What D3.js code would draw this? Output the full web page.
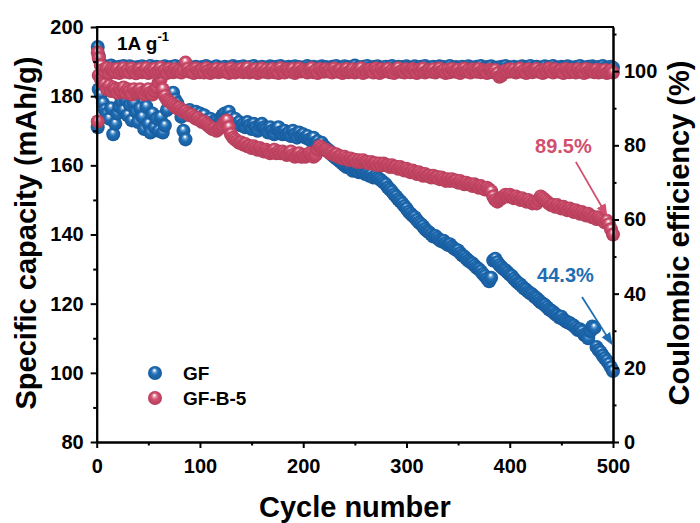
<!DOCTYPE html>
<html>
<head>
<meta charset="utf-8">
<script src="https://cdn.jsdelivr.net/npm/d3@7"></script>
<style>
  html, body { margin: 0; padding: 0; background: #fff; }
  svg { display: block; }
  text { font-family: "Liberation Sans", Arial, sans-serif; font-weight: bold; }
</style>
</head>
<body>
<svg id="chart" width="700" height="523"></svg>
<script>
// Cycle numbers: the first cycle, then every second cycle up to 500
const cycles = [1].concat(d3.range(2, 501, 2));

// Specific capacity (mAh/g), GF
const gfCapacity = [171,
  182,180.5,178,176,175,173.5,176.5,169,172,175,
  177,178.5,176,179,174.5,177.5,173,178,175.5,172.5,
  176.5,174,170.5,177,172,169.5,175,171,173.5,170,
  174,169.5,171.5,176,178.5,180.5,181,179,178,176.5,
  174,170,167.5,175.5,176,175,174.5,175.5,174,175,
  173.5,174.5,173,172,173.5,172.5,171.5,173,172,173.5,
  174.5,175,174,175.5,174,173,173.5,172,172.5,171.5,
  172,171,172.5,171.5,170.5,172,171,170,171.5,172,
  171,170.5,169.5,171,170,169,170.5,171,169.5,169,
  170,169,169.5,168.5,170,169,168,169.5,168.5,169,
  168,168.5,167.5,167,168,166.5,167,166,166.5,165.5,
  165,164.5,164,163,162.5,162,161.5,161,160.5,160,
  159.5,159.8,159,158.4,159.2,158.5,158,158.6,158,157.5,
  157.6,157,157.5,156.5,157,156.4,156,155.5,155,154.5,
  153.6,153,152.4,151.6,151,150.2,149.6,149,148.2,147.5,
  146.6,146,145.4,145,144.2,143.5,143,142.4,141.6,141,
  140.6,140,139.4,139.6,139,138.4,138,138.2,137.5,137,
  137.2,136.5,136,135.6,135.4,134.6,134,133.6,133,132.4,
  132,131.6,131,130.4,130,129.4,128.6,128,127.2,126.5,
  127.5,132.5,133,132,131.2,130.6,130,129.6,129,128.4,
  128,127.2,126.6,126,125.6,125,124.4,124,123.4,123,
  122.6,122,121.6,121,120.4,120,119.6,119,118.4,118,
  117.6,117,116.6,116,116.2,115.4,115,114.6,114.4,114,
  113.6,113,112.4,112.6,112,111,110.6,110,112,113.4,
  113,107.5,106.6,106,105,104.2,103.5,102.6,101.6,100.5];

// Specific capacity (mAh/g), GF-B-5
const gfbCapacity = [172.7,
  186,185,184,183.5,182,183,181.5,182.5,182,181,
  182,181.5,182.5,181,182,181.5,180.5,182,181,181.5,
  182,181,180.5,181.5,182,181,180.5,181.5,182.5,184,
  185,182,180,179,178.5,178,177.5,177,176.5,176.6,
  176,175.5,175.6,175,174.5,174.6,174,173.5,173.6,173,
  172.5,172.6,172,171.5,171,170.5,170.6,170,170.5,171,
  171.5,172.5,173,171,169,168,167.5,167,166.5,166.6,
  166,166.2,165.5,165.6,165,165.5,165,164.5,165,164.5,
  164,164.5,164,163.5,164,164.5,163.5,164,163.5,164,
  163.5,163,163.5,164,163,162.5,163,163.5,162.5,163,
  162.5,163,163.5,163,162.5,163,164.5,165.5,165,164.5,
  164.5,164,163.5,163.6,163,163.2,162.5,162.6,162,162.5,
  162,161.5,162,161.5,161.6,161,161.5,161,161.5,161,
  161,160.5,161,160.5,160.6,160,160.5,160,160.5,160,
  160,159.5,160,159.5,159.6,159,159.5,159,158.5,159,
  158.5,158,158.5,158,157.5,158,157.5,157,157.5,157,
  157,156.5,157,156.5,156.6,156,156.5,156,155.5,156,
  155.5,156,155.5,155.6,155,155.5,155,154.5,155,154.5,
  154.5,154,154.5,154,153.5,154,153.5,153,153.5,153,
  152.5,151,150,149.5,150,150.5,151,151.5,151,151.5,
  151,150.5,151,150.5,150,150.5,150,149.5,150,149.5,
  149,149.5,149,150,151,150.5,150,149.5,149,148.5,
  148.5,148,148.5,148,147.5,148,147.5,147,147.5,147,
  146.5,147,146.5,146,146.5,146,145.5,146,145.5,145,
  145,144.5,145,144.5,144,143.5,144,143,141.5,140];

// Coulombic efficiency (%), GF
const gfEfficiency = [106.5,
  104,102,101.5,100.6,101.2,100.4,101.5,100.8,101,100.3,
  101.2,100.7,101.4,100.5,100.9,101.3,100.6,101,100.4,101.1,
  100.8,101.3,100.5,101,100.7,101.4,100.6,100.9,101.2,100.5,
  101,100.6,101.3,100.8,100.5,101.1,100.9,101.4,100.6,100.8,
  101.2,100.5,100.9,101.3,100.7,101,100.4,101.2,100.8,100.6,
  101.1,100.7,101.4,100.9,100.5,101,100.8,101.3,100.6,100.9,
  100.5,101.2,100.8,101,100.6,101.4,100.9,100.7,101.1,100.5,
  101.3,100.8,100.6,101.1,100.9,101.4,100.7,101,100.5,101.2,
  100.8,101,100.6,101.3,100.9,100.5,101.2,100.7,101.4,100.8,
  101,100.6,101.2,100.9,100.5,101.3,100.8,101.1,100.6,101,
  100.7,101.4,100.9,100.6,101.2,100.8,101,100.5,101.3,100.9,
  101.1,100.7,100.5,101.2,100.9,101.4,100.8,100.6,101,101.3,
  100.8,101.1,100.6,100.9,101.5,100.7,101,100.5,101.2,100.9,
  101.4,100.8,100.6,101.1,100.9,101.3,100.5,101,100.8,101.2,
  100.6,101,101.4,100.8,100.5,101.2,100.9,101.1,100.7,101.3,
  100.9,100.5,101,101.3,100.7,100.9,101.2,100.6,101.4,100.8,
  101,100.7,101.2,100.5,100.9,101.3,100.8,101.1,100.6,101,
  101.4,100.8,100.6,101.1,100.9,100.5,101.2,100.8,101,101.3,
  100.7,101,100.5,101.2,100.9,101.4,100.6,100.8,101.1,100.9,
  101.3,100.6,100.9,101,100.5,101.2,100.8,101.4,100.7,101,
  100.9,101.2,100.6,101,100.8,101.3,100.5,101.1,100.9,101.4,
  100.7,100.9,101.2,100.6,101,100.8,101.3,100.5,101.1,100.9,
  101.4,100.7,101,100.6,101.2,100.9,100.5,101.3,100.8,101,
  100.6,101.1,100.9,101.4,100.7,101,100.5,101.2,100.8,101.3,
  100.9,100.6,101.1,100.8,101.4,100.7,101,100.5,101.2,100.9];

// Coulombic efficiency (%), GF-B-5
const gfbEfficiency = [105,
  103.5,101.5,100.3,99.6,100.8,99.4,100.5,100.1,99.7,100.6,
  99.5,100.2,100.8,99.8,100.4,99.6,100.7,100,99.4,100.3,
  100.6,99.7,100.1,100.8,99.5,100.4,99.9,100.6,99.6,100.2,
  100.9,99.8,100.3,99.5,100.6,100,99.7,100.5,99.9,100.2,
  99.6,100.4,102.3,100.6,99.8,100.2,99.5,100.7,100,99.7,
  100.4,99.6,100.8,100.1,99.5,100.3,99.9,100.6,99.7,100.2,
  100.5,99.8,100.1,99.5,100.7,100,99.6,100.4,99.9,100.6,
  99.7,100.3,100.8,99.6,100.1,99.9,100.5,99.5,100.2,100.7,
  99.8,100.4,99.6,100.1,100.6,99.7,100.3,99.5,100.8,100,
  99.6,100.5,100.2,99.8,100.6,99.5,100.1,100.7,99.9,100.3,
  100,99.6,100.4,100.8,99.7,100.2,99.5,100.6,100.1,99.8,
  100.5,99.9,100.3,99.6,100.7,100,99.8,100.4,99.5,100.2,
  100.6,99.7,100.1,100.5,99.6,100.3,99.9,100.8,99.5,100.2,
  99.8,100.4,100,99.6,100.7,100.2,99.5,100.5,99.9,100.3,
  100.6,99.7,100.2,99.5,100.4,100.8,99.8,100.1,99.6,100.5,
  100,99.7,100.6,100.2,99.5,100.4,99.9,100.7,99.6,100.1,
  100.3,99.8,100.5,99.6,100.1,100.7,99.9,100.2,99.5,100.4,
  99.7,100.6,100,99.8,100.4,99.5,100.2,100.7,99.9,100.3,
  99.6,100.5,100.1,99.8,100.6,99.7,100.3,100,99.5,100.4,
  100.1,99.7,100.3,99.4,98.5,98.8,99.6,100.2,99.8,100.5,
  99.9,100.4,99.6,100.1,100.7,99.8,100.2,99.5,100.5,100,
  99.7,100.3,100.6,99.8,100.1,99.5,100.4,99.9,100.7,100.2,
  99.6,100.5,100,99.8,100.3,99.5,100.6,100.1,99.7,100.4,
  100,99.6,100.5,99.9,100.2,99.5,100.6,99.8,100.3,100,
  99.7,100.4,99.6,100.1,99.8,100.3,99.5,99.9,100.2,99.6];

// Axis ticks
const xMajorTicks = [0,100,200,300,400,500];
const xMinorTicks = [50,150,250,350,450];
const capMajorTicks = [80,100,120,140,160,180,200];
const capMinorTicks = [90,110,130,150,170,190];
const ceMajorTicks = [0,20,40,60,80,100];
const ceMinorTicks = [10,30,50,70,90,110];

const seriesNames = ["GF", "GF-B-5"];
const retentionLabels = ["44.3%", "89.5%"];

const blue = "#1f6db3", red = "#d24f6e";

const svg = d3.select("#chart");
const plotLeft = 96.7, plotRight = 613, plotTop = 27, plotBottom = 442;

const x = d3.scaleLinear().domain([0, 500]).range([plotLeft, plotRight]);
const yCap = d3.scaleLinear().domain([80, 200]).range([plotBottom, plotTop]);
const yCE = d3.scaleLinear().domain([0, 111.9]).range([plotBottom, plotTop]);

// Glossy ball gradients
const defs = svg.append("defs");
function ball(id, light, base, dark) {
  const g = defs.append("radialGradient").attr("id", id)
    .attr("cx", "50%").attr("cy", "50%").attr("r", "50%")
    .attr("fx", "45%").attr("fy", "28%");
  g.append("stop").attr("offset", "0%").attr("stop-color", "#ffffff");
  g.append("stop").attr("offset", "9%").attr("stop-color", "#f2f5f9");
  g.append("stop").attr("offset", "26%").attr("stop-color", light);
  g.append("stop").attr("offset", "50%").attr("stop-color", base);
  g.append("stop").attr("offset", "100%").attr("stop-color", dark);
}
ball("ballBlue", "#6aa3da", blue, "#175a9c");
ball("ballRed", "#e791a6", red, "#b43d5a");

function arrowMarker(id, color) {
  defs.append("marker").attr("id", id)
    .attr("viewBox", "0 0 10 10").attr("refX", 9).attr("refY", 5)
    .attr("markerWidth", 7).attr("markerHeight", 7).attr("orient", "auto")
    .append("path").attr("d", "M0,1 L10,5 L0,9 Z").attr("fill", color);
}
arrowMarker("arrowRed", red);
arrowMarker("arrowBlue", blue);

const R = 7;
function drawSeries(values, yScale, fill) {
  svg.append("g").selectAll("circle")
    .data(cycles.map((c, i) => [c, values[i]]))
    .join("circle")
    .attr("cx", d => x(d[0]))
    .attr("cy", d => yScale(d[1]))
    .attr("r", R)
    .attr("fill", fill);
}
drawSeries(gfCapacity, yCap, "url(#ballBlue)");
drawSeries(gfEfficiency, yCE, "url(#ballBlue)");
drawSeries(gfbCapacity, yCap, "url(#ballRed)");
drawSeries(gfbEfficiency, yCE, "url(#ballRed)");

// Axes
function styleAxis(g) {
  g.selectAll("path.domain").attr("stroke", "#000").attr("stroke-width", 2);
  g.selectAll(".tick line").attr("stroke", "#000").attr("stroke-width", 2);
  g.selectAll(".tick text").attr("fill", "#000").style("font-size", "20px");
}
const xAxis = svg.append("g").attr("transform", `translate(0,${plotBottom})`)
  .call(d3.axisBottom(x).tickValues(xMajorTicks).tickSize(6).tickPadding(11).tickSizeOuter(0));
styleAxis(xAxis);
const xMinor = svg.append("g").attr("transform", `translate(0,${plotBottom})`)
  .call(d3.axisBottom(x).tickValues(xMinorTicks).tickSize(3.5).tickFormat("").tickSizeOuter(0));
styleAxis(xMinor);

const yAxis = svg.append("g").attr("transform", `translate(${plotLeft},0)`)
  .call(d3.axisLeft(yCap).tickValues(capMajorTicks).tickSize(6).tickPadding(7).tickSizeOuter(0));
styleAxis(yAxis);
const yMinor = svg.append("g").attr("transform", `translate(${plotLeft},0)`)
  .call(d3.axisLeft(yCap).tickValues(capMinorTicks).tickSize(3.5).tickFormat("").tickSizeOuter(0));
styleAxis(yMinor);

const y2Axis = svg.append("g").attr("transform", `translate(${plotRight},0)`)
  .call(d3.axisRight(yCE).tickValues(ceMajorTicks).tickSize(6).tickPadding(5).tickSizeOuter(0));
styleAxis(y2Axis);
const y2Minor = svg.append("g").attr("transform", `translate(${plotRight},0)`)
  .call(d3.axisRight(yCE).tickValues(ceMinorTicks).tickSize(3.5).tickFormat("").tickSizeOuter(0));
styleAxis(y2Minor);

// top frame line
svg.append("line").attr("x1", plotLeft - 1).attr("x2", plotRight + 1).attr("y1", plotTop).attr("y2", plotTop)
  .attr("stroke", "#000").attr("stroke-width", 2);

// Axis titles
svg.append("text").attr("transform", `translate(${(plotLeft + plotRight) / 2},517)`)
  .attr("text-anchor", "middle").style("font-size", "29px").text("Cycle number");
svg.append("text").attr("transform", "translate(36,233) rotate(-90)")
  .attr("text-anchor", "middle").style("font-size", "29px").text("Specific capacity (mAh/g)");
svg.append("text").attr("transform", "translate(689,233) rotate(-90)")
  .attr("text-anchor", "middle").style("font-size", "29px").text("Coulombic efficiency (%)");

// Current density note
const note = svg.append("text").attr("x", 117).attr("y", 50).style("font-size", "19px");
note.append("tspan").text("1A g");
note.append("tspan").attr("dy", -9).style("font-size", "13px").text("-1");

// Legend
const legend = svg.append("g");
[["url(#ballBlue)", 373], ["url(#ballRed)", 398]].forEach((d, i) => {
  legend.append("circle").attr("cx", 155).attr("cy", d[1]).attr("r", 7).attr("fill", d[0]);
  legend.append("text").attr("x", 183).attr("y", d[1] + 7).style("font-size", "19px")
    .attr("fill", "#000").text(seriesNames[i]);
});

// Capacity retention annotations
svg.append("text").attr("x", x(424.5)).attr("y", yCap(163.6))
  .attr("fill", red).style("font-size", "20px").text(retentionLabels[1]);
svg.append("line")
  .attr("x1", x(464)).attr("y1", yCap(161)).attr("x2", x(494)).attr("y2", yCap(145.5))
  .attr("stroke", red).attr("stroke-width", 1.8).attr("marker-end", "url(#arrowRed)");

svg.append("text").attr("x", x(426.5)).attr("y", yCap(126.3))
  .attr("fill", blue).style("font-size", "20px").text(retentionLabels[0]);
svg.append("line")
  .attr("x1", x(470)).attr("y1", yCap(121.9)).attr("x2", x(499)).attr("y2", yCap(108.3))
  .attr("stroke", blue).attr("stroke-width", 1.8).attr("marker-end", "url(#arrowBlue)");
</script>
</body>
</html>
